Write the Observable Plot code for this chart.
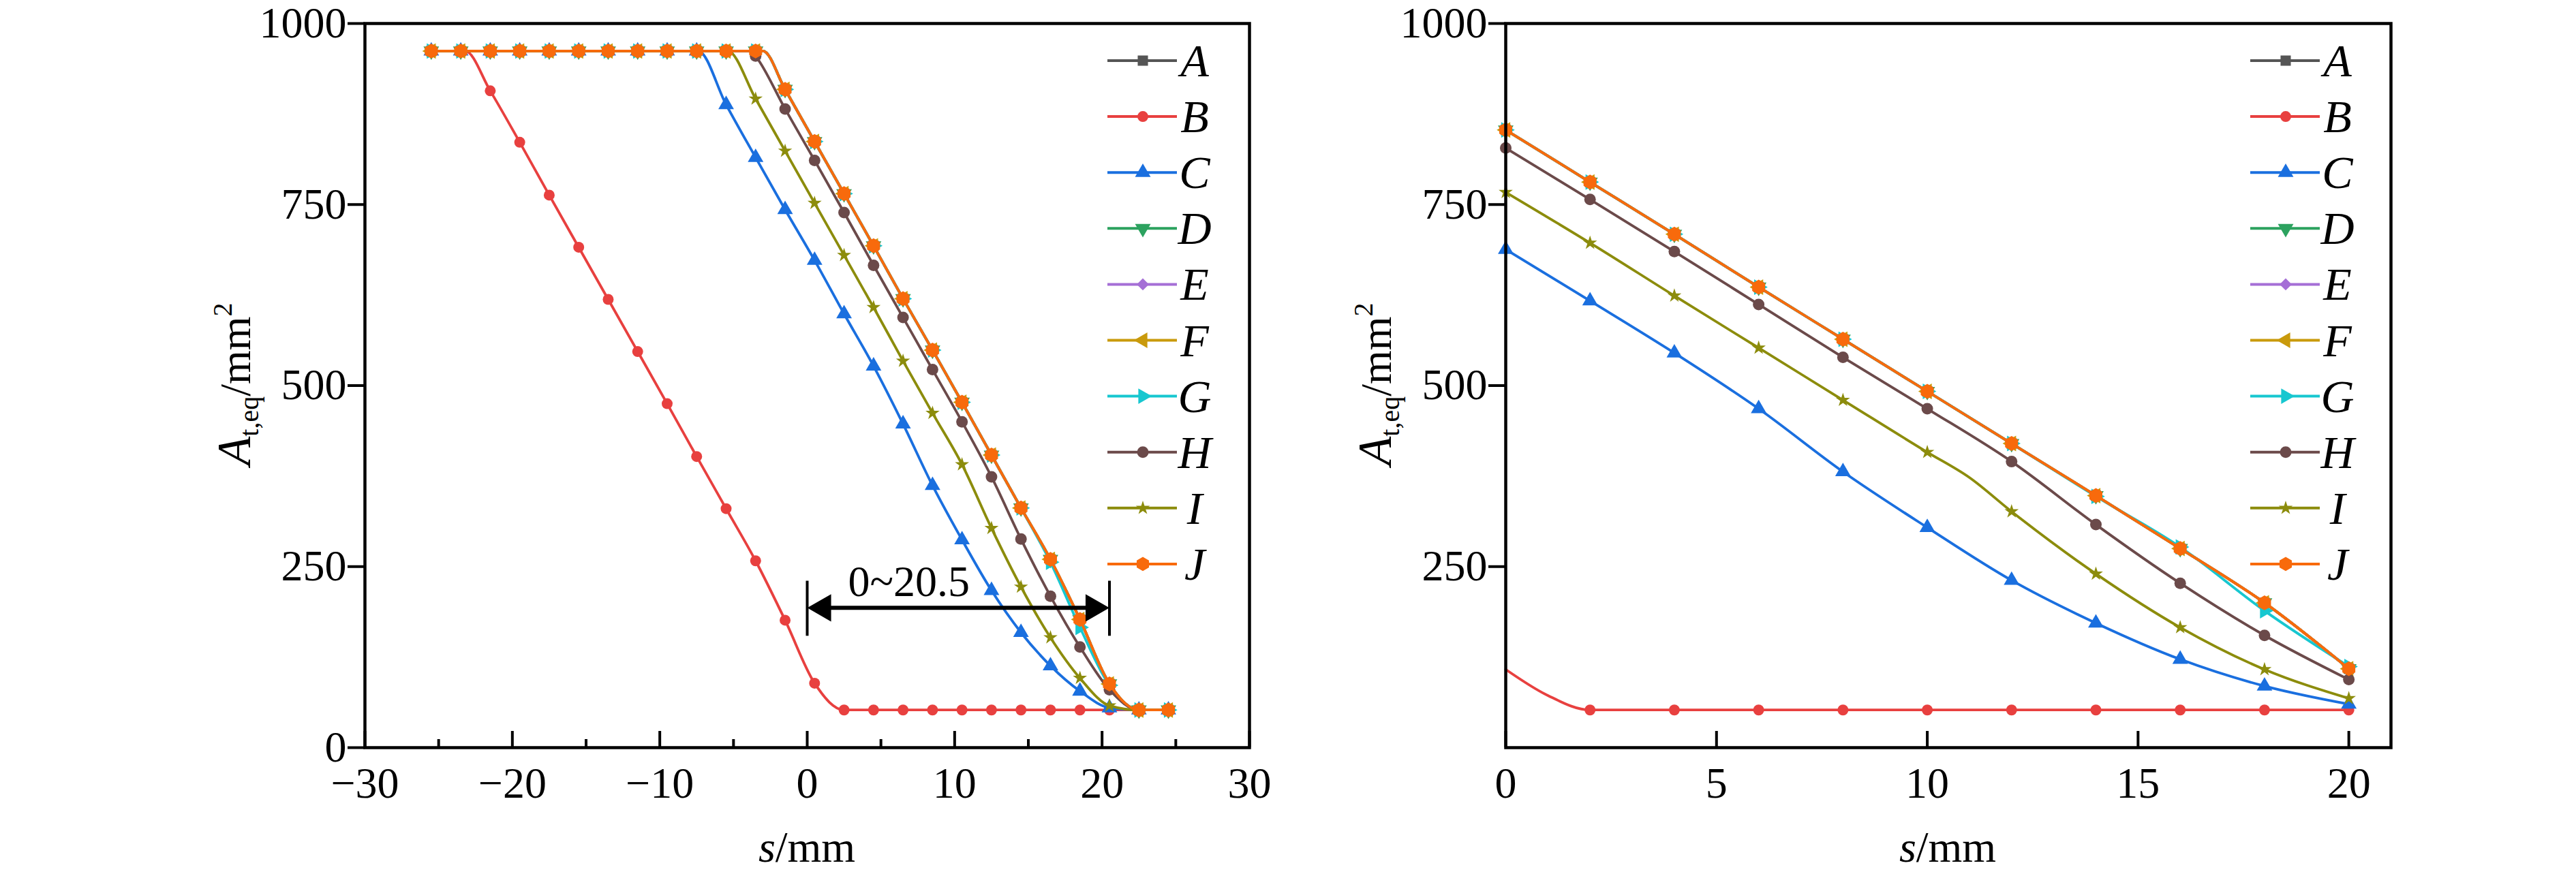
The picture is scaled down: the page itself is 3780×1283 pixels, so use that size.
<!DOCTYPE html>
<html><head><meta charset="utf-8">
<script src="https://cdn.jsdelivr.net/npm/d3@7"></script>
<script src="https://cdn.jsdelivr.net/npm/@observablehq/plot@0.6"></script>
<style>
html,body{margin:0;padding:0;background:#fff;}
#wrap{position:relative;width:3780px;height:1283px;background:#fff;}
#wrap svg{position:absolute;top:0;}
</style></head><body><div id="wrap"></div>
<script>
// ---------- series definitions ----------
const series = ["A","B","C","D","E","F","G","H","I","J"];
const colors = ["#555555","#e8403f","#1a6fdf","#2ca25f","#a56fd6","#c99a0c","#17c7d0","#6b4a4a","#8c8c0c","#f86a0c"];
const symbols = ["square","circle","triangle","triangle","diamond2","triangle","triangle","circle","star","hexagon"];
const rotations = [0,0,0,180,0,-90,90,0,0,0];
const markerR = [8.5,8,8.5,8.5,8,8.5,8.5,8.5,6.5,9.5];

// ---------- left panel data (s from -30 to 30) ----------
const sLeft = [-25.5,-23.5,-21.5,-19.5,-17.5,-15.5,-13.5,-11.5,-9.5,-7.5,-5.5,-3.5,-1.5,0.5,2.5,4.5,6.5,8.5,10.5,12.5,14.5,16.5,18.5,20.5,22.5,24.5];
const leftA = [962,962,962,962,962,962,962,962,962,962,962,962,909,837,765,693,620,549,477,404,331,260,177,88,52,52];
const leftB = [962,962,907,836,763,691,619,547,475,402,330,258,176,89,52,52,52,52,52,52,52,52,52,52,52,52];
const leftC = [962,962,962,962,962,962,962,962,962,962,888,815,743,673,599,527,447,362,287,217,159,113,78,55,52,52];
const leftD = [962,962,962,962,962,962,962,962,962,962,962,962,909,837,765,693,620,549,477,404,331,260,177,88,52,52];
const leftE = [962,962,962,962,962,962,962,962,962,962,962,962,909,837,765,693,620,549,477,404,331,260,177,88,52,52];
const leftF = [962,962,962,962,962,962,962,962,962,962,962,962,909,837,765,693,620,549,477,404,331,260,177,88,52,52];
const leftG = [962,962,962,962,962,962,962,962,962,962,962,962,909,837,765,693,620,549,477,404,331,256,166,86,52,52];
const leftH = [962,962,962,962,962,962,962,962,962,962,962,955,882,811,739,666,594,522,450,374,288,209,139,80,52,52];
const leftI = [962,962,962,962,962,962,962,962,962,962,962,896,824,752,680,608,534,462,391,303,222,152,96,58,52,52];
const leftJ = [962,962,962,962,962,962,962,962,962,962,962,962,909,837,765,693,620,549,477,404,331,260,177,88,52,52];
// where each curve leaves the upper plateau (line only, no marker)
const kneeLeftX = [-3.0,-23.2,-7.4,-3.0,-3.0,-3.0,-3.0,-3.8,-5.4,-3.0];
const kneeLeftY = [962,962,962,962,962,962,962,962,962,962];

// annotation of the left panel
const spanX = [0, 20.5];
const spanY = 193;
const spanBarY = [154, 230];
const spanLabel = "0~20.5";
const spanLabelX = 6.9;
const spanLabelY = 229;

// ---------- right panel data (s from 0 to 20) ----------
const sRight = [0,2,4,6,8,10,12,14,16,18,20];
const rightA = [853,781,709,636,564,492,420,348,275,200,109];
const rightB = [108,52,52,52,52,52,52,52,52,52,52];
const rightC = [688,617,545,468,381,304,231,172,122,85,60];
const rightD = [853,781,709,636,564,492,420,348,275,200,109];
const rightE = [853,781,709,636,564,492,420,348,275,200,109];
const rightF = [853,781,709,636,564,492,420,348,275,200,109];
const rightG = [853,781,709,636,564,492,420,347,277,189,112];
const rightH = [828,757,685,612,539,468,395,308,227,155,94];
const rightI = [767,697,624,552,480,408,326,240,166,108,68];
const rightJ = [853,781,709,636,564,492,420,348,275,200,109];
const extraRightSeries = ["B","I"];
const extraRightX = [1, 11];
const extraRightY = [72, 373];
const noMarkerAtStartRight = ["B"];

// ---------- ticks ----------
const leftXTicks = [-30,-20,-10,0,10,20,30];
const leftXMinor = [-25,-15,-5,5,15,25];
const leftYTicks = [0,250,500,750,1000];
const rightXTicks = [0,5,10,15,20];
const rightYTicks = [250,500,750,1000];

// ---------- layout ----------
const W = 1890, HT = 1283, MT = 34, MB = 186;
const FONT = "'Liberation Serif', 'Times New Roman', 'DejaVu Serif', serif";
const fmt = d => (d < 0 ? "\u2212" + Math.abs(d) : String(d));

function panel(cfg) {
  const FH = HT - MT - MB;
  const marks = [];
  cfg.cols.forEach((col, i) => {
    const pts = cfg.xs.map((x, j) => ({x, y: col[j], m: !(j === 0 && cfg.noMarker.includes(series[i]))}));
    cfg.extras.forEach(e => { if (e.s === series[i]) pts.push({x: e.x, y: e.y, m: false}); });
    pts.sort((a, b) => a.x - b.x);
    marks.push(Plot.line(pts, {x: "x", y: "y", stroke: colors[i], strokeWidth: 3.8, curve: "monotone-x"}));
    marks.push(Plot.dot(pts.filter(p => p.m), {x: "x", y: "y", symbol: symbols[i], r: markerR[i], fill: colors[i], stroke: "none", rotate: rotations[i]}));
  });
  if (cfg.annotate) {
    marks.push(Plot.ruleX(spanX, {x: d => d, y1: spanBarY[0], y2: spanBarY[1], stroke: "black", strokeWidth: 4}));
    marks.push(Plot.ruleY([spanY], {x1: spanX[0], x2: spanX[1], y: d => d, insetLeft: 20, insetRight: 20, stroke: "black", strokeWidth: 6}));
    marks.push(Plot.dot([spanX[0]], {x: d => d, y: spanY, symbol: "triangle", r: 15, rotate: -90, dx: 23.4, fill: "black", stroke: "none"}));
    marks.push(Plot.dot([spanX[1]], {x: d => d, y: spanY, symbol: "triangle", r: 15, rotate: 90, dx: -23.4, fill: "black", stroke: "none"}));
    marks.push(Plot.text([{x: spanLabelX, y: spanLabelY, t: spanLabel}], {x: "x", y: "y", text: "t", fontSize: 64, fontFamily: FONT, lineAnchor: "middle", fill: "black"}));
  }
  marks.push(Plot.tickX(cfg.xTicks, {x: d => d, insetTop: FH - 24, stroke: "black", strokeWidth: 4}));
  if (cfg.xMinor.length) marks.push(Plot.tickX(cfg.xMinor, {x: d => d, insetTop: FH - 12, stroke: "black", strokeWidth: 4}));
  marks.push(Plot.axisX({ticks: cfg.xTicks, tickFormat: fmt, tickSize: 0, tickPadding: 28, label: null, fontSize: 64, fontFamily: FONT}));
  marks.push(Plot.axisY({ticks: cfg.yTicks, tickFormat: fmt, tickSize: 25, tickPadding: 2, strokeWidth: 4, label: null, fontSize: 64, fontFamily: FONT}));
  marks.push(Plot.frame({stroke: "black", strokeWidth: 4.5}));

  const svg = Plot.plot({
    width: W, height: HT,
    marginLeft: cfg.ml, marginRight: cfg.mr, marginTop: MT, marginBottom: MB,
    x: {domain: cfg.domainX},
    y: {domain: [0, 1000]},
    style: {fontFamily: FONT, fontSize: "64px", background: "white", color: "black", overflow: "visible"},
    marks
  });
  svg.style.left = cfg.left + "px";
  const s = d3.select(svg);

  // y title
  const yt = s.append("text").attr("transform", `translate(${cfg.yTitleX},564) rotate(-90)`)
    .attr("text-anchor", "middle").style("font-family", FONT).attr("font-size", 64).attr("fill", "black");
  yt.append("tspan").attr("font-style", "italic").attr("font-size", 70).text("A");
  yt.append("tspan").attr("dy", 12).attr("font-size", 40).text("t,eq");
  yt.append("tspan").attr("dy", -12).text("/mm");
  yt.append("tspan").attr("dy", -27).attr("font-size", 40).text("2");

  // x title
  const xt = s.append("text").attr("x", cfg.xTitleX).attr("y", 1265)
    .attr("text-anchor", "middle").style("font-family", FONT).attr("font-size", 64).attr("fill", "black");
  xt.append("tspan").attr("font-style", "italic").text("s");
  xt.append("tspan").text("/mm");

  // legend
  const lg = s.append("g");
  series.forEach((name, i) => {
    const y = 89 + 82.1 * i;
    lg.append("line").attr("x1", cfg.legX).attr("x2", cfg.legX + 102).attr("y1", y).attr("y2", y)
      .attr("stroke", colors[i]).attr("stroke-width", 4);
    const size = Math.PI * markerR[i] * markerR[i];
    let path;
    if (symbols[i] === "hexagon") {
      const rr = Math.sqrt(2 * size / (3 * Math.sqrt(3)));
      path = d3.range(6).map(k => { const a = Math.PI / 3 * k + Math.PI / 6; return (k ? "L" : "M") + (rr * Math.cos(a)).toFixed(2) + "," + (rr * Math.sin(a)).toFixed(2); }).join("") + "Z";
    } else {
      const map = {square: d3.symbolSquare, circle: d3.symbolCircle, triangle: d3.symbolTriangle, diamond2: d3.symbolDiamond2, star: d3.symbolStar};
      path = d3.symbol(map[symbols[i]], size)();
    }
    lg.append("path").attr("d", path).attr("fill", colors[i])
      .attr("transform", `translate(${cfg.legX + 52},${y}) rotate(${rotations[i]})`);
    lg.append("text").attr("x", cfg.legX + 128).attr("y", y + 23)
      .attr("font-style", "italic").attr("font-size", 68).style("font-family", FONT).attr("fill", "black").text(name);
  });
  document.getElementById("wrap").appendChild(svg);
}

panel({
  left: 0, ml: 535, mr: W - 1833, domainX: [-30, 30],
  xs: sLeft, cols: [leftA, leftB, leftC, leftD, leftE, leftF, leftG, leftH, leftI, leftJ],
  extras: series.map((s, i) => ({s, x: kneeLeftX[i], y: kneeLeftY[i]})),
  noMarker: [],
  xTicks: leftXTicks, xMinor: leftXMinor, yTicks: leftYTicks,
  annotate: true, yTitleX: 367, xTitleX: 1184, legX: 1625
});
panel({
  left: W, ml: 2209 - W, mr: W - (3508 - W), domainX: [0, 21],
  xs: sRight, cols: [rightA, rightB, rightC, rightD, rightE, rightF, rightG, rightH, rightI, rightJ],
  extras: extraRightSeries.map((s, i) => ({s, x: extraRightX[i], y: extraRightY[i]})),
  noMarker: noMarkerAtStartRight,
  xTicks: rightXTicks, xMinor: [], yTicks: rightYTicks,
  annotate: false, yTitleX: 2041 - W, xTitleX: 2858 - W, legX: 3302 - W
});
</script></body></html>
